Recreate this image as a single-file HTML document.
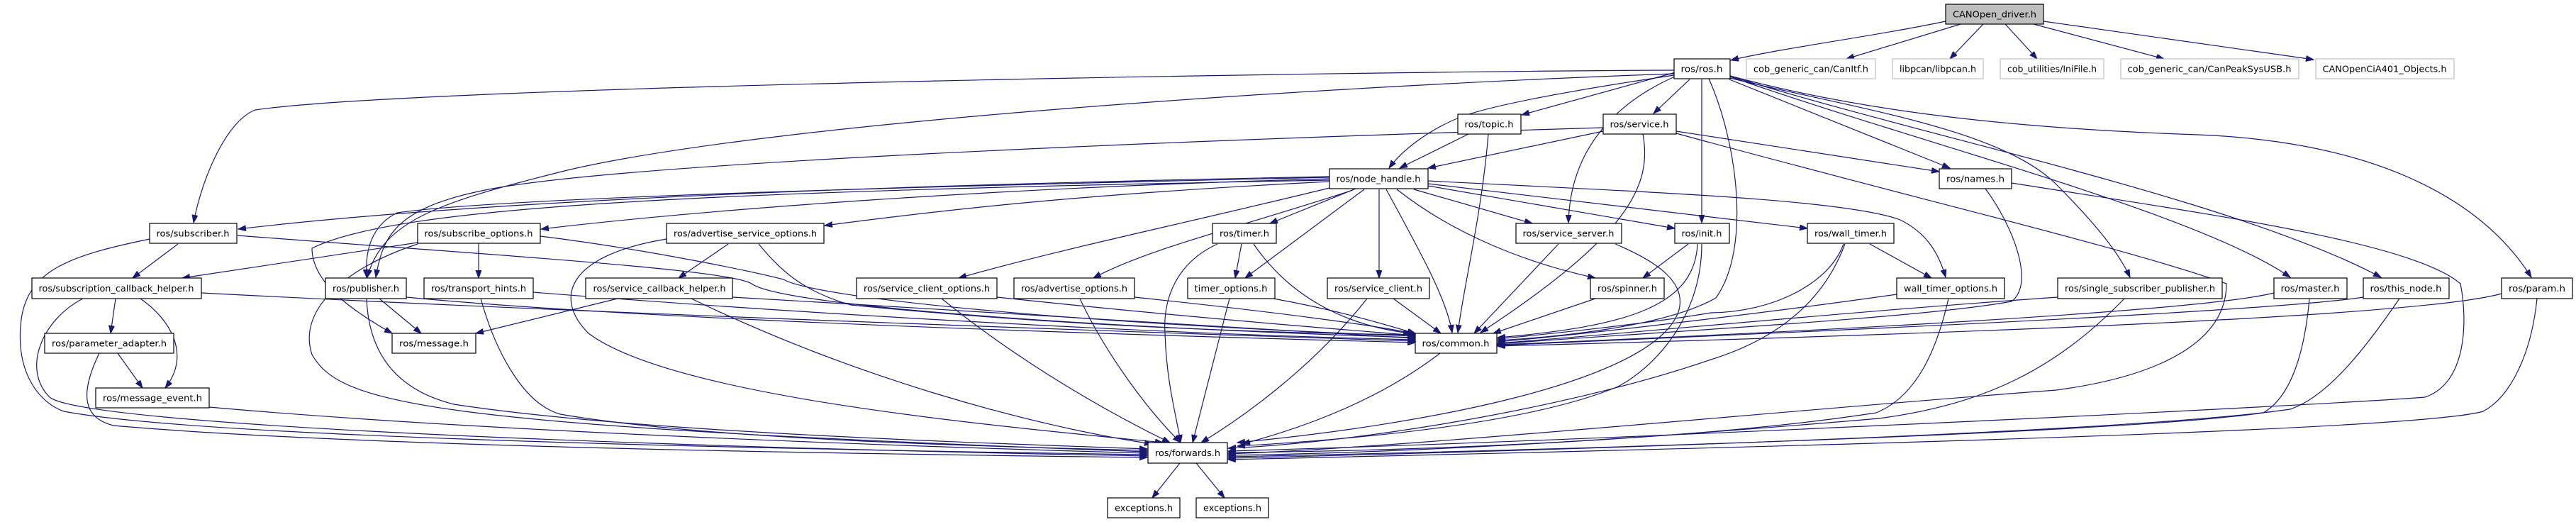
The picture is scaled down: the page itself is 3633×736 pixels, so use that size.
<!DOCTYPE html>
<html><head><meta charset="utf-8"><style>
html,body{margin:0;padding:0;background:#fff;}
svg{display:block;}
.e{fill:none;stroke:#191970;stroke-width:1.2;marker-end:url(#a);}
.n{fill:#fff;stroke:#000;stroke-width:1.2;}
.g{fill:#fff;stroke:#bfbfbf;stroke-width:1.2;}
text{font-family:"DejaVu Sans","Liberation Sans",sans-serif;font-size:12.5px;fill:#000;text-anchor:middle;}
</style></head><body>
<svg width="3633" height="736" viewBox="0 0 3633 736" xmlns="http://www.w3.org/2000/svg">
<defs><marker id="a" markerUnits="userSpaceOnUse" markerWidth="12" markerHeight="9" refX="11" refY="4" orient="auto"><path d="M0,0 L11,4 L0,8 z" fill="#191970" stroke="#191970"/></marker></defs>
<g>
<!-- CANOpen edges -->
<path class="e" d="M2744,30 C2650,50 2500,70 2441,85"/>
<path class="e" d="M2765,34 L2604,83"/>
<path class="e" d="M2797,34 L2750,83"/>
<path class="e" d="M2828,34 L2873,83"/>
<path class="e" d="M2868,34 L3052,83"/>
<path class="e" d="M2882,30 L3263,84"/>
<!-- ros.h edges -->
<path class="e" d="M2361,99 C2000,100 600,120 360,155 C320,170 285,250 273,314"/>
<path class="e" d="M2361,104 C1900,120 1100,170 800,240 C620,285 540,310 518,391"/>
<path class="e" d="M2361,106 C2200,130 2100,150 2060,165 C2010,185 1975,215 1959,237"/>
<path class="e" d="M2363,102 L2146,162"/>
<path class="e" d="M2383,112 L2332,160"/>
<path class="e" d="M2362,108 C2290,140 2215,200 2212,314"/>
<path class="e" d="M2400,112 L2400,314"/>
<path class="e" d="M2410,111 C2450,200 2470,350 2420,420 C2350,460 2200,475 2112,480"/>
<path class="e" d="M2439,112 L2750,237"/>
<path class="e" d="M2440,110 C2600,150 2820,180 2900,260 C2960,320 2990,360 3004,391"/>
<path class="e" d="M2440,108 C2700,200 3100,300 3230,391"/>
<path class="e" d="M2440,107 C2700,190 3150,280 3358,391"/>
<path class="e" d="M2440,107 C2600,150 2800,180 3100,190 C3350,200 3500,280 3570,391"/>
<!-- topic -->
<path class="e" d="M2071,189 L1974,237"/>
<path class="e" d="M2099,189 C2090,300 2065,400 2056,469"/>
<!-- service -->
<path class="e" d="M2261,185 L2014,237"/>
<path class="e" d="M2261,180 C1600,200 900,230 700,265 C560,290 540,330 530,391"/>
<path class="e" d="M2364,185 L2735,242"/>
<path class="e" d="M2317,189 C2330,260 2300,330 2088,469"/>
<path class="e" d="M2364,188 C2700,280 3000,350 3140,400 C3140,480 3050,530 2900,550 C2500,580 2000,630 1732,640"/>
<!-- node_handle -->
<path class="e" d="M1875,249 C1300,260 700,280 336,323"/>
<path class="e" d="M1875,252 C1400,265 1000,295 763,323"/>
<path class="e" d="M1875,256 C1500,275 1300,300 1163,318"/>
<path class="e" d="M1875,250 C1200,265 700,280 560,300 C520,320 515,360 517,391"/>
<path class="e" d="M1875,254 C1000,270 560,290 440,350 C440,400 500,440 553,470"/>
<path class="e" d="M1875,265 C1650,320 1500,350 1352,392"/>
<path class="e" d="M1908,268 C1750,320 1620,350 1542,392"/>
<path class="e" d="M1912,266 L1791,315"/>
<path class="e" d="M1924,267 L1756,392"/>
<path class="e" d="M1945,267 L1945,392"/>
<path class="e" d="M1955,267 C2000,350 2040,420 2048,469"/>
<path class="e" d="M1970,267 C2050,330 2150,370 2250,392"/>
<path class="e" d="M1994,267 L2161,315"/>
<path class="e" d="M2014,262 L2362,322"/>
<path class="e" d="M2014,259 L2549,322"/>
<path class="e" d="M2014,255 C2300,270 2600,280 2680,310 C2720,330 2735,360 2744,391"/>
<!-- row 4 -->
<path class="e" d="M251,344 L187,392"/>
<path class="e" d="M335,332 C700,360 1030,380 1060,400 C1100,430 1500,460 1996,476"/>
<path class="e" d="M211,337 C100,360 40,380 30,450 C20,530 60,570 90,580 C300,620 1200,635 1618,641"/>
<path class="e" d="M589,342 L257,392"/>
<path class="e" d="M675,343 L675,392"/>
<path class="e" d="M762,333 C900,350 1050,380 1105,394 C1150,420 1500,455 1996,474"/>
<path class="e" d="M589,344 C480,380 420,440 440,500 C480,570 600,600 1618,637"/>
<path class="e" d="M1027,344 L957,392"/>
<path class="e" d="M1070,344 C1100,380 1130,410 1200,430 C1500,460 1800,470 1996,472"/>
<path class="e" d="M940,337 C800,360 780,420 830,470 C950,560 1400,600 1640,624"/>
<!-- row 5 left -->
<path class="e" d="M163,421 L156,470"/>
<path class="e" d="M198,421 C240,450 270,500 233,547"/>
<path class="e" d="M284,413 C800,440 1500,465 1996,481"/>
<path class="e" d="M117,421 C60,450 30,520 70,560 C120,600 900,630 1618,643"/>
<path class="e" d="M166,498 L201,547"/>
<path class="e" d="M140,498 C110,560 120,590 160,600 C500,630 1200,640 1618,645"/>
<path class="e" d="M295,574 C700,610 1300,630 1618,639"/>
<path class="e" d="M535,421 L594,470"/>
<path class="e" d="M573,419 C900,450 1500,470 1996,483"/>
<path class="e" d="M517,421 C520,500 560,550 640,570 C900,610 1400,625 1618,633"/>
<path class="e" d="M678,421 C700,500 740,570 790,584 C1000,620 1400,630 1618,635"/>
<path class="e" d="M752,412 C1100,440 1600,470 1996,479"/>
<path class="e" d="M871,421 L671,470"/>
<path class="e" d="M1033,419 C1400,440 1800,465 1996,477"/>
<path class="e" d="M975,421 C1200,530 1450,600 1625,626"/>
<path class="e" d="M1406,419 C1700,450 1900,465 1996,473"/>
<path class="e" d="M1328,421 C1450,520 1580,590 1650,624"/>
<path class="e" d="M1600,419 C1800,440 1950,460 1996,471"/>
<path class="e" d="M1523,421 C1560,500 1620,580 1665,624"/>
<!-- timer etc -->
<path class="e" d="M1751,344 L1742,392"/>
<path class="e" d="M1768,344 C1820,420 1900,460 1990,470"/>
<path class="e" d="M1717,344 C1660,370 1640,420 1643,470 C1645,540 1660,590 1665,624"/>
<path class="e" d="M1796,421 C1900,440 1960,460 1996,470"/>
<path class="e" d="M1734,421 L1682,624"/>
<path class="e" d="M1965,421 L2032,470"/>
<path class="e" d="M1928,421 C1850,520 1750,590 1694,624"/>
<path class="e" d="M2198,344 L2079,470"/>
<path class="e" d="M2278,344 C2340,370 2380,400 2367,440 C2330,540 2000,600 1745,624"/>
<path class="e" d="M2250,421 L2106,470"/>
<path class="e" d="M2381,344 L2317,392"/>
<path class="e" d="M2394,344 C2390,430 2300,460 2112,476"/>
<path class="e" d="M2400,344 C2400,450 2330,520 2282,545 C2150,600 1900,620 1745,629"/>
<path class="e" d="M2637,344 L2724,392"/>
<path class="e" d="M2600,344 C2580,400 2500,440 2413,441 C2300,460 2150,474 2112,478"/>
<path class="e" d="M2602,344 C2570,430 2500,480 2413,507 C2200,580 1900,625 1732,632"/>
<path class="e" d="M2675,415 C2500,440 2250,470 2112,482"/>
<path class="e" d="M2748,421 C2730,500 2700,560 2646,582 C2400,620 2000,636 1732,638"/>
<path class="e" d="M2902,419 C2600,440 2300,470 2112,484"/>
<path class="e" d="M2996,421 C2900,520 2800,570 2650,590 C2300,620 2000,638 1732,642"/>
<path class="e" d="M3207,413 C3100,440 2500,470 2112,486"/>
<path class="e" d="M3257,421 C3250,500 3230,560 3192,582 C3000,610 2200,635 1732,644"/>
<path class="e" d="M3333,419 C3200,440 2500,470 2112,487"/>
<path class="e" d="M3384,421 C3330,500 3280,560 3230,577 C3000,610 2200,635 1732,646"/>
<path class="e" d="M3528,414 C3400,450 2600,475 2112,488"/>
<path class="e" d="M3578,421 C3570,500 3540,560 3502,580 C3400,610 2300,635 1732,648"/>
<path class="e" d="M2800,266 C2840,320 2870,400 2837,425 C2700,450 2300,470 2112,485"/>
<path class="e" d="M2837,258 C3100,300 3400,340 3470,400 C3480,450 3480,540 3420,560 C3300,570 2300,620 1732,636"/>
<path class="e" d="M2031,498 C1950,560 1850,600 1752,626"/>
<path class="e" d="M1664,653 L1625,702"/>
<path class="e" d="M1687,653 L1727,702"/>
</g>
<!-- nodes -->
<g>
<rect x="2744" y="6" width="138" height="28" fill="#bfbfbf" stroke="#000" stroke-width="1.2"/><text x="2813" y="24.5" textLength="118" lengthAdjust="spacingAndGlyphs">CANOpen_driver.h</text>
<rect class="n" x="2361" y="83" width="79" height="28"/><text x="2400" y="101.5" textLength="59" lengthAdjust="spacingAndGlyphs">ros/ros.h</text>
<rect class="g" x="2463" y="83" width="182" height="28"/><text x="2554" y="101.5" textLength="162" lengthAdjust="spacingAndGlyphs">cob_generic_can/CanItf.h</text>
<rect class="g" x="2669" y="83" width="128" height="28"/><text x="2733" y="101.5" textLength="108" lengthAdjust="spacingAndGlyphs">libpcan/libpcan.h</text>
<rect class="g" x="2821" y="83" width="146" height="28"/><text x="2894" y="101.5" textLength="126" lengthAdjust="spacingAndGlyphs">cob_utilities/IniFile.h</text>
<rect class="g" x="2991" y="83" width="251" height="28"/><text x="3116" y="101.5" textLength="231" lengthAdjust="spacingAndGlyphs">cob_generic_can/CanPeakSysUSB.h</text>
<rect class="g" x="3266" y="83" width="195" height="28"/><text x="3363" y="101.5" textLength="175" lengthAdjust="spacingAndGlyphs">CANOpenCiA401_Objects.h</text>
<rect class="n" x="2056" y="161" width="89" height="28"/><text x="2100" y="179.5" textLength="69" lengthAdjust="spacingAndGlyphs">ros/topic.h</text>
<rect class="n" x="2261" y="161" width="103" height="28"/><text x="2312" y="179.5" textLength="83" lengthAdjust="spacingAndGlyphs">ros/service.h</text>
<rect class="n" x="1875" y="238" width="139" height="28"/><text x="1944" y="256.5" textLength="119" lengthAdjust="spacingAndGlyphs">ros/node_handle.h</text>
<rect class="n" x="2735" y="238" width="102" height="28"/><text x="2786" y="256.5" textLength="82" lengthAdjust="spacingAndGlyphs">ros/names.h</text>
<rect class="n" x="211" y="315" width="123" height="28"/><text x="272" y="333.5" textLength="103" lengthAdjust="spacingAndGlyphs">ros/subscriber.h</text>
<rect class="n" x="589" y="315" width="173" height="28"/><text x="675" y="333.5" textLength="153" lengthAdjust="spacingAndGlyphs">ros/subscribe_options.h</text>
<rect class="n" x="940" y="315" width="222" height="28"/><text x="1051" y="333.5" textLength="202" lengthAdjust="spacingAndGlyphs">ros/advertise_service_options.h</text>
<rect class="n" x="1710" y="315" width="90" height="28"/><text x="1755" y="333.5" textLength="70" lengthAdjust="spacingAndGlyphs">ros/timer.h</text>
<rect class="n" x="2138" y="315" width="149" height="28"/><text x="2212" y="333.5" textLength="129" lengthAdjust="spacingAndGlyphs">ros/service_server.h</text>
<rect class="n" x="2362" y="315" width="77" height="28"/><text x="2400" y="333.5" textLength="57" lengthAdjust="spacingAndGlyphs">ros/init.h</text>
<rect class="n" x="2549" y="315" width="122" height="28"/><text x="2610" y="333.5" textLength="102" lengthAdjust="spacingAndGlyphs">ros/wall_timer.h</text>
<rect class="n" x="45" y="392" width="239" height="29"/><text x="164" y="411" textLength="219" lengthAdjust="spacingAndGlyphs">ros/subscription_callback_helper.h</text>
<rect class="n" x="459" y="392" width="114" height="29"/><text x="516" y="411" textLength="94" lengthAdjust="spacingAndGlyphs">ros/publisher.h</text>
<rect class="n" x="598" y="392" width="154" height="29"/><text x="675" y="411" textLength="134" lengthAdjust="spacingAndGlyphs">ros/transport_hints.h</text>
<rect class="n" x="826" y="392" width="207" height="29"/><text x="930" y="411" textLength="187" lengthAdjust="spacingAndGlyphs">ros/service_callback_helper.h</text>
<rect class="n" x="1208" y="392" width="198" height="29"/><text x="1307" y="411" textLength="178" lengthAdjust="spacingAndGlyphs">ros/service_client_options.h</text>
<rect class="n" x="1430" y="392" width="170" height="29"/><text x="1515" y="411" textLength="150" lengthAdjust="spacingAndGlyphs">ros/advertise_options.h</text>
<rect class="n" x="1675" y="392" width="123" height="29"/><text x="1736" y="411" textLength="103" lengthAdjust="spacingAndGlyphs">timer_options.h</text>
<rect class="n" x="1872" y="392" width="144" height="29"/><text x="1944" y="411" textLength="124" lengthAdjust="spacingAndGlyphs">ros/service_client.h</text>
<rect class="n" x="2243" y="392" width="104" height="29"/><text x="2295" y="411" textLength="84" lengthAdjust="spacingAndGlyphs">ros/spinner.h</text>
<rect class="n" x="2675" y="392" width="152" height="29"/><text x="2751" y="411" textLength="132" lengthAdjust="spacingAndGlyphs">wall_timer_options.h</text>
<rect class="n" x="2902" y="392" width="232" height="29"/><text x="3018" y="411" textLength="212" lengthAdjust="spacingAndGlyphs">ros/single_subscriber_publisher.h</text>
<rect class="n" x="3207" y="392" width="103" height="29"/><text x="3258" y="411" textLength="83" lengthAdjust="spacingAndGlyphs">ros/master.h</text>
<rect class="n" x="3333" y="392" width="121" height="29"/><text x="3393" y="411" textLength="101" lengthAdjust="spacingAndGlyphs">ros/this_node.h</text>
<rect class="n" x="3528" y="392" width="100" height="29"/><text x="3578" y="411" textLength="80" lengthAdjust="spacingAndGlyphs">ros/param.h</text>
<rect class="n" x="63" y="470" width="182" height="28"/><text x="154" y="488.5" textLength="162" lengthAdjust="spacingAndGlyphs">ros/parameter_adapter.h</text>
<rect class="n" x="553" y="470" width="118" height="28"/><text x="612" y="488.5" textLength="98" lengthAdjust="spacingAndGlyphs">ros/message.h</text>
<rect class="n" x="1996" y="470" width="115" height="28"/><text x="2053" y="488.5" textLength="95" lengthAdjust="spacingAndGlyphs">ros/common.h</text>
<rect class="n" x="135" y="547" width="160" height="28"/><text x="215" y="565.5" textLength="140" lengthAdjust="spacingAndGlyphs">ros/message_event.h</text>
<rect class="n" x="1619" y="624" width="112" height="29"/><text x="1675" y="643" textLength="92" lengthAdjust="spacingAndGlyphs">ros/forwards.h</text>
<rect class="n" x="1562" y="702" width="102" height="28"/><text x="1613" y="720.5" textLength="82" lengthAdjust="spacingAndGlyphs">exceptions.h</text>
<rect class="n" x="1687" y="702" width="102" height="28"/><text x="1738" y="720.5" textLength="82" lengthAdjust="spacingAndGlyphs">exceptions.h</text>
</g>
</svg>
</body></html>
